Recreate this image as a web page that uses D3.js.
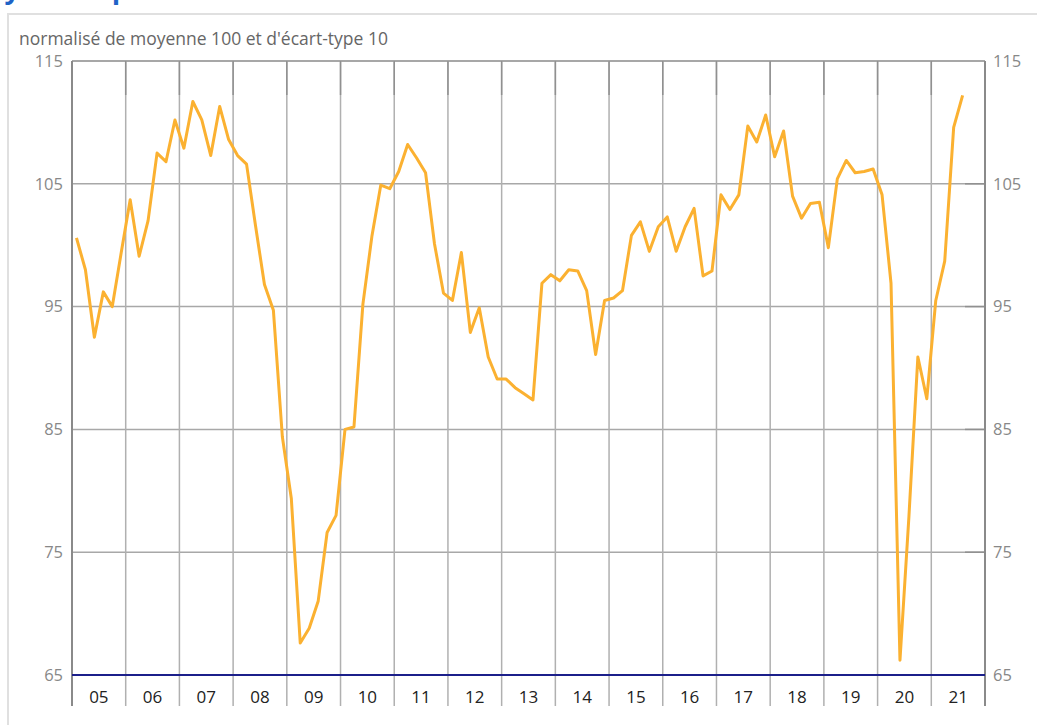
<!DOCTYPE html>
<html>
<head>
<meta charset="utf-8">
<script src="https://cdn.jsdelivr.net/npm/d3@7"></script>
<style>
  body { margin: 0; background: #fff; overflow: hidden; }
  svg { display: block; font-family: "Open Sans", sans-serif; }
</style>
</head>
<body>
<div id="chart"></div>
<script>
// Year labels (2005 .. 2021) and bimonthly values, six per year
var yearLabels = ["05", "06", "07", "08", "09", "10", "11", "12", "13", "14", "15", "16", "17", "18", "19", "20", "21"];
var firstYear = 2005;
var perYear = 6;

var values = [
  100.6, 98.0, 92.5, 96.2, 95.0, 99.4,
  103.7, 99.1, 102.0, 107.5, 106.8, 110.2,
  107.9, 111.7, 110.2, 107.3, 111.3, 108.6,
  107.3, 106.6, 101.6, 96.8, 94.7, 84.4,
  79.4, 67.6, 68.8, 71.0, 76.6, 78.0,
  85.0, 85.2, 95.2, 100.7, 104.9, 104.6,
  106.0, 108.2, 107.1, 105.9, 100.1, 96.1,
  95.5, 99.4, 92.9, 94.9, 90.9, 89.1,
  89.1, 88.4, 87.9, 87.4, 96.9, 97.6,
  97.1, 98.0, 97.9, 96.3, 91.1, 95.5,
  95.7, 96.3, 100.8, 101.9, 99.5, 101.5,
  102.3, 99.5, 101.5, 103.0, 97.5, 97.9,
  104.1, 102.9, 104.1, 109.7, 108.4, 110.6,
  107.2, 109.3, 104.0, 102.2, 103.4, 103.5,
  99.8, 105.4, 106.9, 105.9, 106.0, 106.2,
  104.1, 96.9, 66.2, 77.9, 90.9, 87.5,
  95.5, 98.7, 109.6, 112.2
];

var yTicks = [65, 75, 85, 95, 105, 115];

var subtitle = "normalisé de moyenne 100 et d'écart-type 10";
var title = "synthétique";

var svgWidth = 1037;
var svgHeight = 725;
var margin = { top: 61, right: 52, bottom: 50, left: 72 };
var width = svgWidth - margin.left - margin.right;
var height = svgHeight - margin.top - margin.bottom;

var svg = d3.select("#chart")
    .append("svg")
    .attr("width", svgWidth)
    .attr("height", svgHeight);

// Panel frame and heading (heading sits above the visible area, as in the source)
svg.append("rect")
    .attr("x", 8).attr("y", 14)
    .attr("width", svgWidth + 20).attr("height", svgHeight + 20)
    .attr("fill", "none")
    .attr("stroke", "#e0e0e0")
    .attr("stroke-width", 2);

svg.append("text")
    .attr("x", -9).attr("y", -1)
    .attr("font-size", "27px")
    .attr("font-weight", "bold")
    .attr("fill", "#1f63c6")
    .text(title);

svg.append("text")
    .attr("x", 19).attr("y", 45)
    .attr("font-size", "17.5px")
    .attr("fill", "#666")
    .text(subtitle);

var chartGroup = svg.append("g")
    .attr("transform", `translate(${margin.left}, ${margin.top})`);

// Scales
var xScale = d3.scaleLinear()
    .domain([firstYear, firstYear + yearLabels.length])
    .range([0, width]);

var yScale = d3.scaleLinear()
    .domain([65, 115])
    .range([height, 0]);

// Horizontal gridlines
chartGroup.selectAll(".hgrid")
    .data(yTicks)
    .enter()
    .append("line")
    .attr("x1", 0).attr("x2", width)
    .attr("y1", d => yScale(d)).attr("y2", d => yScale(d))
    .attr("stroke", d => d === 115 ? "#8a8a8a" : "#a8a8a8")
    .attr("stroke-width", 1.5);

// short darker ticks at right end of gridlines
chartGroup.selectAll(".htick")
    .data(yTicks.filter(d => d > 65 && d < 115))
    .enter()
    .append("line")
    .attr("x1", width - 20).attr("x2", width)
    .attr("y1", d => yScale(d)).attr("y2", d => yScale(d))
    .attr("stroke", "#909090")
    .attr("stroke-width", 1.5);

// Vertical year separators
var yearBounds = d3.range(1, yearLabels.length).map(i => firstYear + i);
chartGroup.selectAll(".vgrid")
    .data(yearBounds)
    .enter()
    .append("line")
    .attr("x1", d => xScale(d)).attr("x2", d => xScale(d))
    .attr("y1", 0).attr("y2", height + 31)
    .attr("stroke", "#b0b0b0")
    .attr("stroke-width", 1.5);

chartGroup.selectAll(".vtick")
    .data(yearBounds)
    .enter()
    .append("line")
    .attr("x1", d => xScale(d)).attr("x2", d => xScale(d))
    .attr("y1", 0).attr("y2", 34)
    .attr("stroke", "#909090")
    .attr("stroke-width", 1.5);

// Left and right axis lines
[0, width].forEach(function(x) {
    chartGroup.append("line")
        .attr("x1", x).attr("x2", x)
        .attr("y1", 0).attr("y2", height + 31)
        .attr("stroke", "#8a8a8a")
        .attr("stroke-width", 2);
});

// Y axis labels both sides
var leftAxis = d3.axisLeft(yScale).tickValues(yTicks).tickSize(0).tickPadding(9);
var rightAxis = d3.axisRight(yScale).tickValues(yTicks).tickSize(0).tickPadding(8);

var gl = chartGroup.append("g").call(leftAxis);
var gr = chartGroup.append("g").attr("transform", `translate(${width}, 0)`).call(rightAxis);
[gl, gr].forEach(function(g) {
    g.select(".domain").remove();
    g.selectAll("text")
        .attr("font-family", "'Open Sans', sans-serif")
        .attr("font-size", "16.5px")
        .attr("fill", "#888");
});

// Baseline
chartGroup.append("line")
    .attr("x1", 0).attr("x2", width)
    .attr("y1", height).attr("y2", height)
    .attr("stroke", "#1b1f8a")
    .attr("stroke-width", 2);

// Year labels
chartGroup.selectAll(".year")
    .data(yearLabels)
    .enter()
    .append("text")
    .attr("x", (d, i) => xScale(firstYear + i + 0.5))
    .attr("y", height + 28)
    .attr("text-anchor", "middle")
    .attr("font-size", "17px")
    .attr("fill", "#222")
    .text(d => d);

// Series line
var line = d3.line()
    .x((d, i) => xScale(firstYear + (i + 0.5) / perYear))
    .y(d => yScale(d));

chartGroup.append("path")
    .datum(values)
    .attr("d", line)
    .attr("fill", "none")
    .attr("stroke", "#fbb131")
    .attr("stroke-width", 3)
    .attr("stroke-linejoin", "round");
</script>
</body>
</html>
